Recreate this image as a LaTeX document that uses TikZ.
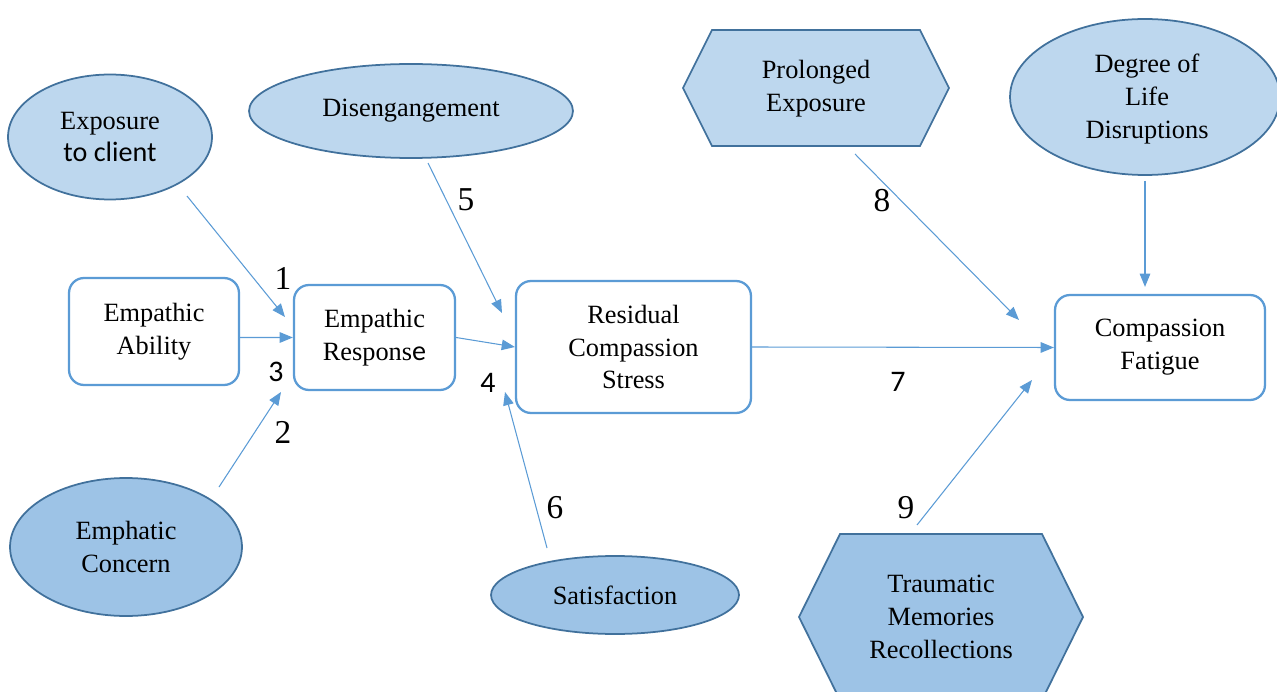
\documentclass[tikz,border=0pt]{standalone}
\usepackage{fontspec}
\setmainfont{Liberation Serif}
\newfontfamily\calfont{Carlito}
\usetikzlibrary{arrows.meta,shapes.geometric,calc}
\definecolor{lightblue}{HTML}{BDD7EE}
\definecolor{midblue}{HTML}{9DC3E6}
\definecolor{edgeblue}{HTML}{41719C}
\definecolor{lineblue}{HTML}{5B9BD5}
\def\hexagon[#1](#2)(#3:#4:#5){\draw[#1] ($(#2)+(-#3,0)$) -- ($(#2)+(-#3+#5,-#4)$) -- ($(#2)+(#3-#5,-#4)$) -- ($(#2)+(#3,0)$) -- ($(#2)+(#3-#5,#4)$) -- ($(#2)+(-#3+#5,#4)$) -- cycle;}
\tikzset{
	txt/.style={font=\fontsize{15}{18.7}\selectfont, align=center},
	oval/.style={ellipse, draw=edgeblue, line width=1pt, inner sep=0pt, txt},
	roundbox/.style={rectangle, rounded corners=0.3cm, draw=lineblue, line width=1.3pt, fill=white, inner sep=0pt, txt},
	serifnum/.style={font=\fontsize{19}{22}\selectfont},
	sansnum/.style={font=\calfont\fontsize{17}{20}\selectfont},
	arr/.style={color=lineblue, line width=0.6pt, -{Triangle[length=7.5pt,width=6pt]}}
}
\begin{document}
\begin{tikzpicture}[x=0.02cm, y=-0.02cm]
		%%%%% START %%%%%
		\useasboundingbox (0, 0) rectangle (1277, 692);
		
		% ovals
		\node[oval, fill=lightblue, minimum width=4.08cm, minimum height=2.5cm] (expo) at (110, 137) {Exposure\\{\calfont\fontsize{16}{19}\selectfont to client}};
		\node[oval, fill=lightblue, minimum width=6.48cm, minimum height=1.88cm] (diseng) at (411, 111) {Disengangement};
		\node[oval, fill=lightblue, minimum width=5.4cm, minimum height=3.12cm] (degree) at (1145, 97) {};
		\node[txt] (degreetxt) at (1147, 99) {Degree of\\Life\\Disruptions};
		\node[oval, fill=midblue, minimum width=4.64cm, minimum height=2.76cm] (concern) at (126, 547) {Emphatic\\Concern};
		\node[oval, fill=midblue, minimum width=4.96cm, minimum height=1.56cm] (satis) at (615, 595) {Satisfaction};
		
		% hexagons
		\hexagon[draw=edgeblue, line width=1pt, fill=lightblue](816, 88)(133:58:29);
		\node[txt] (prolong) at (816, 89) {Prolonged\\Exposure};
		\hexagon[draw=edgeblue, line width=1pt, fill=midblue](941, 617)(142:83:41);
		\node[txt] (trauma) at (941, 617) {Traumatic\\Memories\\Recollections};
		
		% boxes
		\node[roundbox, minimum width=3.4cm, minimum height=2.14cm] (ability) at (154, 331.5) {Empathic\\Ability};
		\node[roundbox, minimum width=3.22cm, minimum height=2.1cm] (resp) at (374.5, 337.5) {Empathic\\Respons{\calfont\fontsize{16}{19}\selectfont e}};
		\node[roundbox, minimum width=4.7cm, minimum height=2.64cm] (resid) at (633.5, 347) {Residual\\Compassion\\Stress};
		\node[roundbox, minimum width=4.2cm, minimum height=2.1cm] (fatigue) at (1160, 347.5) {Compassion\\Fatigue};
		
		% free arrow ends
		\coordinate (tail1) at (187, 196);  \coordinate (tip1) at (285, 317);
		\coordinate (tail2) at (219, 487);  \coordinate (tip2) at (281, 392);
		\coordinate (tail5) at (428, 163);  \coordinate (tip5) at (502, 313);
		\coordinate (tail6) at (547, 548);  \coordinate (tip6) at (505, 392);
		\coordinate (tail8) at (855, 154);  \coordinate (tip8) at (1019, 320);
		\coordinate (tail9) at (917, 525);  \coordinate (tip9) at (1032, 380);
		
		\draw[arr] (tail1) -- (tip1);
		\draw[arr] (tail2) -- (tip2);
		\draw[arr] (ability.-4) -- (resp.west);
		\draw[arr] (tail5) -- (tip5);
		\draw[arr] (resp.east) -- (resid.west);
		\draw[arr] (tail6) -- (tip6);
		\draw[arr] (resid.east) -- (fatigue.west);
		\draw[arr] (tail8) -- (tip8);
		\draw[arr, shorten <=0.1cm, shorten >=0.14cm] (degree.south) -- (degree.south |- fatigue.north);
		\draw[arr] (tail9) -- (tip9);
		
		% numbers
		\node[serifnum] (n1) at (283, 278) {1};
		\node[serifnum] (n2) at (283, 432) {2};
		\node[sansnum] (n3) at (276, 372) {3};
		\node[sansnum] (n4) at (488, 383) {4};
		\node[serifnum] (n5) at (466, 200) {5};
		\node[serifnum] (n6) at (555, 508) {6};
		\node[sansnum] (n7) at (898, 382) {7};
		\node[serifnum] (n8) at (882, 201) {8};
		\node[serifnum] (n9) at (906, 508) {9};
		%%%%% END %%%%%
	\end{tikzpicture}
\end{document}
